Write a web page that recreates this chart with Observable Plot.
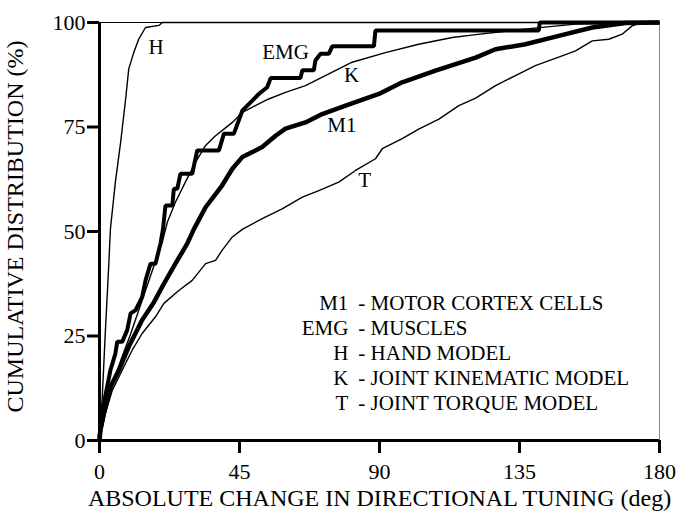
<!DOCTYPE html>
<html>
<head>
<meta charset="utf-8">
<script src="https://cdn.jsdelivr.net/npm/d3@7"></script>
<script src="https://cdn.jsdelivr.net/npm/@observablehq/plot@0.6"></script>
<style>
  html, body { margin: 0; padding: 0; background: #fff; }
  #chart svg { display: block; }
</style>
</head>
<body>
<div id="chart"></div>
<script>
// ---- data (x: deg, y: cumulative %) ----
const xTicks = [0, 45, 90, 135, 180];
const yTicks = [0, 25, 50, 75, 100];

const hDeg = [0, 0.9, 1.9, 3.0, 3.5, 5.1, 6.8, 8.4, 9.4, 11.0, 12.6, 14.8, 19.1, 20.2, 180];
const hPct = [0, 10.5, 26.4, 42.3, 50.5, 61.8, 71.4, 81.7, 88.9, 92.8, 96.0, 98.8, 99.3, 100, 100];

const emgDeg = [0, 0, 1.4, 3.5, 5.1, 5.7, 7.3, 8.9, 10.0, 11.6, 13.7, 14.8, 16.4, 18.0, 19.6, 20.4, 21.2, 23.4, 23.9, 25.0, 26.0, 29.8, 31.4, 38.4, 40.0, 43.2, 45.9, 49.1, 51.2, 53.9, 55.0, 64.6, 65.2, 68.9, 69.4, 71.0, 73.7, 74.8, 88.2, 88.7, 141.2, 141.5, 180];
const emgPct = [0, 1, 8.9, 16.8, 20.8, 23.6, 23.6, 26.4, 30.4, 31.2, 34.3, 38.3, 42.3, 42.3, 47.1, 50.5, 56.2, 56.2, 60.2, 60.2, 63.8, 63.8, 69.4, 69.4, 73.4, 73.4, 78.9, 81.3, 82.9, 84.5, 86.7, 86.7, 88.6, 88.6, 90.9, 92.5, 92.5, 94.3, 94.3, 98.1, 98.1, 100, 100];

const kDeg = [0, 2, 4.3, 7, 10, 13, 16, 18.5, 20.2, 21.8, 24.4, 27.6, 30.9, 34.1, 37.3, 40, 42.7, 45.9, 50.1, 54.4, 59.8, 66.2, 72.6, 81.2, 91.9, 102.6, 113.4, 120.9, 139, 153, 180];
const kPct = [0, 7, 13.5, 19.5, 25.5, 32, 38.5, 44, 47.5, 52.2, 57, 61.8, 66.6, 70.6, 72.9, 74.5, 76.1, 78.5, 80.1, 81.7, 83.3, 84.9, 87.3, 90.5, 92.8, 94.8, 96.4, 97.1, 98.6, 99.6, 100];

const m1Deg = [0, 0.3, 3, 6.2, 9.4, 13.7, 17.5, 20.7, 24.4, 28.2, 30.3, 34.1, 39.4, 42.7, 45.9, 52.3, 56.6, 59.8, 66.2, 71.6, 79.1, 89.8, 97.3, 108, 120.9, 127.3, 136.9, 147.6, 158.4, 169.1, 180];
const m1Pct = [0, 2.5, 12, 16.8, 22.4, 28.8, 33.1, 37.5, 42.3, 47.1, 50.5, 55.8, 61, 65, 67.8, 70.2, 72.9, 74.6, 76.1, 78.1, 80.1, 82.9, 85.7, 88.5, 91.6, 93.6, 94.8, 96.8, 98.8, 99.9, 100];

const tDeg = [0, 0.3, 4.1, 7.8, 10.5, 13.7, 18, 20.7, 25.5, 29.8, 34.1, 37.3, 39.4, 42.7, 45.9, 52.3, 58.7, 65.2, 70.5, 76.9, 82.3, 88.7, 90.9, 97.3, 102.6, 109.1, 115.5, 120.9, 127.3, 133.7, 140.1, 148.7, 153, 158.4, 163.7, 168, 171.2, 174.4, 180];
const tPct = [0, 2.5, 12, 17.6, 21.6, 25.6, 29.6, 32.8, 35.9, 38.3, 42.3, 43.1, 45.5, 48.7, 50.5, 53.1, 55.4, 58.2, 59.8, 61.8, 64.6, 67.4, 69.8, 72.2, 74.5, 76.9, 80.1, 81.9, 84.9, 87.3, 89.7, 92, 93.2, 95.6, 96, 97.2, 99.2, 100, 100];

// curve labels
const curveLabels = ["H", "EMG", "K", "M1", "T"];
const curveLabelDeg = [18.2, 59.8, 81.0, 77.9, 85.2];
const curveLabelPct = [94.1, 92.9, 87.3, 75.3, 62.2];

// legend
const legendCodes = ["M1", "EMG", "H", "K", "T"];
const legendNames = ["MOTOR CORTEX CELLS", "MUSCLES", "HAND MODEL", "JOINT KINEMATIC MODEL", "JOINT TORQUE MODEL"];

const xTitle = "ABSOLUTE CHANGE IN DIRECTIONAL TUNING (deg)";
const yTitle = "CUMULATIVE DISTRIBUTION (%)";

// ---- build tables ----
const series = [
  {id: "H", deg: hDeg, pct: hPct, w: 1.4, join: "round"},
  {id: "T", deg: tDeg, pct: tPct, w: 1.4, join: "round"},
  {id: "K", deg: kDeg, pct: kPct, w: 1.4, join: "round"},
  {id: "M1", deg: m1Deg, pct: m1Pct, w: 4.5, join: "round"},
  {id: "EMG", deg: emgDeg, pct: emgPct, w: 4, join: "miter"}
];
const tables = series.map(s => ({...s, rows: s.deg.map((d, i) => ({deg: d, pct: s.pct[i]}))}));
const labelRows = curveLabels.map((t, i) => ({t, deg: curveLabelDeg[i], pct: curveLabelPct[i]}));

// legend layout: first row centre 280.5px below the frame top, 25px per row (frame is 418px tall for 100%)
const pxPerPct = 418 / 100;
const legendRows = legendCodes.map((c, i) => ({c, n: "- " + legendNames[i], pct: 100 - (280.5 + 25 * i) / pxPerPct}));
const legendCodeEnd = 80.0;   // deg
const legendNameStart = 83.2; // deg

const font = "'Liberation Serif', 'Times New Roman', Times, serif";
const txt = {fontFamily: font, fill: "black"};

const chart = Plot.plot({
  width: 679,
  height: 518,
  marginLeft: 99,
  marginRight: 20,
  marginTop: 22,
  marginBottom: 78,
  style: {fontFamily: font, fontSize: "21px", color: "black", background: "white"},
  x: {domain: [0, 180]},
  y: {domain: [0, 100]},
  marks: [
    Plot.ruleY([100], {stroke: "black", strokeWidth: 1}),
    Plot.ruleX([180], {stroke: "#8a8a8a", strokeWidth: 1}),
    ...tables.map(s => Plot.line(s.rows, {x: "deg", y: "pct", stroke: "black", strokeWidth: s.w, strokeLinejoin: s.join, strokeLinecap: "butt"})),
    Plot.ruleX([0], {stroke: "black", strokeWidth: 3}),
    Plot.ruleY([0], {stroke: "black", strokeWidth: 3}),
    Plot.axisX({ticks: xTicks, tickSize: 13, tickPadding: 10, fontSize: 22, fontFamily: font, label: null}),
    Plot.axisY({ticks: yTicks, tickSize: 12, tickPadding: 2, fontSize: 22, fontFamily: font, label: null}),
    Plot.text(labelRows, {x: "deg", y: "pct", text: "t", fontSize: 21, ...txt}),
    Plot.text(legendRows, {x: () => legendCodeEnd, y: "pct", text: "c", textAnchor: "end", fontSize: 21, ...txt}),
    Plot.text(legendRows, {x: () => legendNameStart, y: "pct", text: "n", textAnchor: "start", fontSize: 21, ...txt}),
    Plot.text([xTitle], {frameAnchor: "bottom", dy: 58, lineAnchor: "middle", textAnchor: "middle", fontSize: 24, ...txt}),
    Plot.text([yTitle], {frameAnchor: "left", dx: -84, dy: -5, rotate: -90, lineAnchor: "middle", textAnchor: "middle", fontSize: 24, ...txt})
  ]
});

// thicken the axis tick marks like the reference
chart.querySelectorAll('[aria-label="x-axis tick"], [aria-label="y-axis tick"]').forEach(g => {
  g.setAttribute("stroke-width", 3);
});

document.getElementById("chart").appendChild(chart);
</script>
</body>
</html>
